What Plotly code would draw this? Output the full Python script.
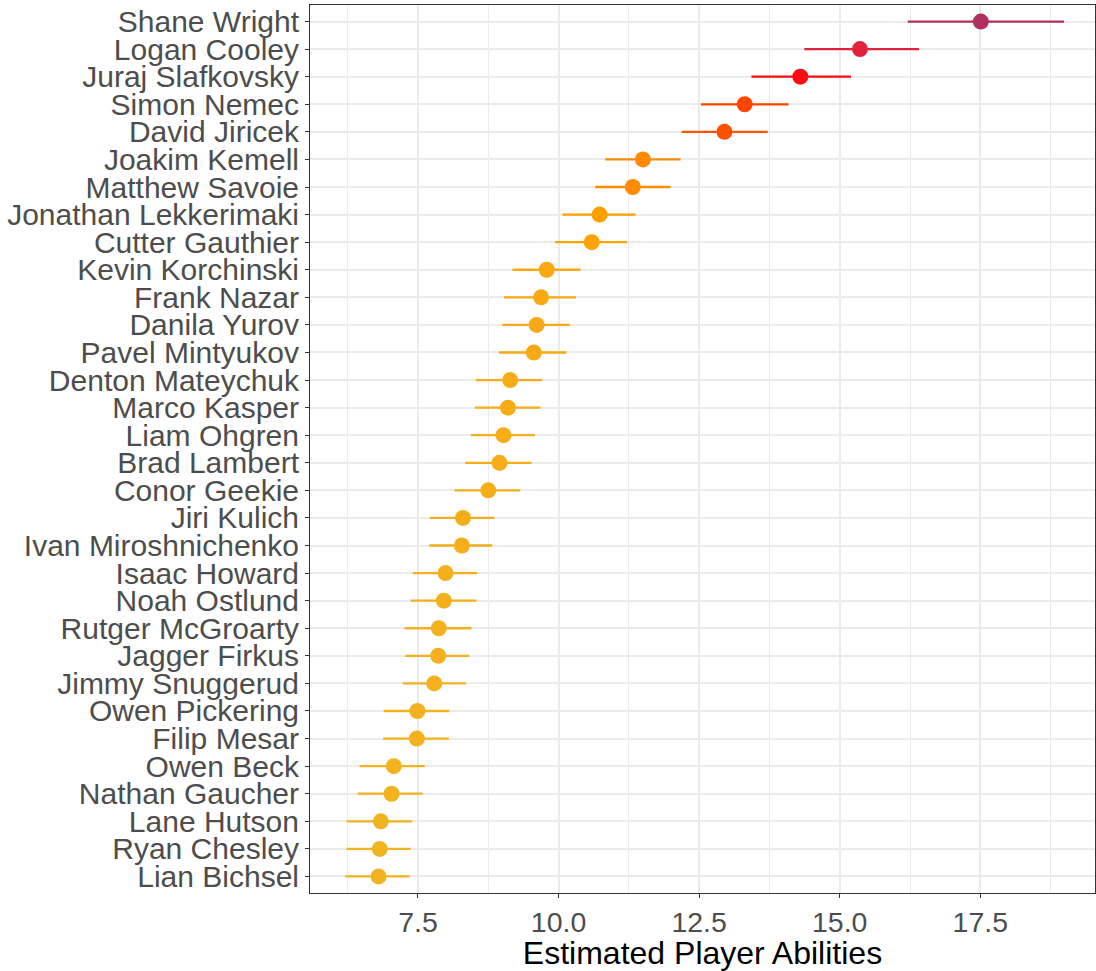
import plotly.graph_objects as go

players = ["Shane Wright", "Logan Cooley", "Juraj Slafkovsky", "Simon Nemec", "David Jiricek",
           "Joakim Kemell", "Matthew Savoie", "Jonathan Lekkerimaki", "Cutter Gauthier",
           "Kevin Korchinski", "Frank Nazar", "Danila Yurov", "Pavel Mintyukov",
           "Denton Mateychuk", "Marco Kasper", "Liam Ohgren", "Brad Lambert", "Conor Geekie",
           "Jiri Kulich", "Ivan Miroshnichenko", "Isaac Howard", "Noah Ostlund",
           "Rutger McGroarty", "Jagger Firkus", "Jimmy Snuggerud", "Owen Pickering",
           "Filip Mesar", "Owen Beck", "Nathan Gaucher", "Lane Hutson", "Ryan Chesley",
           "Lian Bichsel"]
estimate = [17.51, 15.36, 14.30, 13.31, 12.95, 11.50, 11.32, 10.73, 10.59, 9.79, 9.69, 9.61,
            9.56, 9.14, 9.10, 9.02, 8.95, 8.75, 8.30, 8.28, 7.99, 7.96, 7.87, 7.86, 7.79, 7.49,
            7.48, 7.07, 7.03, 6.84, 6.82, 6.80]
lower = [16.21, 14.37, 13.43, 12.53, 12.19, 10.83, 10.65, 10.07, 9.94, 9.18, 9.03, 9.00, 8.94,
         8.53, 8.51, 8.44, 8.34, 8.15, 7.71, 7.70, 7.41, 7.37, 7.26, 7.28, 7.23, 6.89, 6.88,
         6.46, 6.43, 6.23, 6.23, 6.21]
upper = [18.99, 16.41, 15.20, 14.09, 13.72, 12.17, 11.99, 11.37, 11.22, 10.39, 10.31, 10.20,
         10.14, 9.71, 9.68, 9.58, 9.52, 9.32, 8.86, 8.82, 8.55, 8.54, 8.45, 8.41, 8.35, 8.06,
         8.05, 7.62, 7.58, 7.40, 7.37, 7.35]
colors = ["#B03060", "#E2213A", "#FF0A10", "#FF4500", "#FF5200", "#FF8A00", "#FF8C00",
          "#FFA000", "#FFA300", "#FBA80C", "#F9A912", "#F8AA15", "#F8AA16", "#F7AC18",
          "#F7AC18", "#F7AC19", "#F6AD19", "#F6AD1A", "#F5AE1B", "#F5AE1B", "#F4AF1C",
          "#F4AF1C", "#F4B01D", "#F4B01D", "#F4B01E", "#F3B11F", "#F3B11F", "#F3B220",
          "#F3B220", "#F2B321", "#F2B321", "#F2B322"]

fig = go.Figure()
for i, p in enumerate(players):
    fig.add_trace(go.Scatter(
        x=[estimate[i]], y=[i], mode="markers",
        marker=dict(size=16, color=colors[i], line=dict(width=0)),
        error_x=dict(type="data", symmetric=False,
                     array=[upper[i] - estimate[i]],
                     arrayminus=[estimate[i] - lower[i]],
                     color=colors[i], thickness=2.3, width=0),
        showlegend=False, hoverinfo="skip"))

fig.update_layout(
    width=1096, height=971,
    margin=dict(l=310, r=1, t=5, b=78),
    paper_bgcolor="white", plot_bgcolor="white",
    font=dict(family="Liberation Sans, Arial, sans-serif"),
    xaxis=dict(
        range=[5.58, 19.54], tick0=0, dtick=2.5, tickformat=".1f",
        showgrid=True, gridcolor="#EBEBEB", gridwidth=1.8,
        minor=dict(dtick=1.25, tick0=0, showgrid=True, gridcolor="#EBEBEB", gridwidth=1),
        zeroline=False, showline=True, linecolor="#333333", linewidth=1, mirror=True,
        ticks="outside", ticklen=4, tickcolor="#333333", tickwidth=1,
        tickfont=dict(size=28.5, color="#4D4D4D"),
        title=dict(text="Estimated Player Abilities", font=dict(size=32, color="black"), standoff=2),
    ),
    yaxis=dict(
        range=[31.6, -0.6], tickmode="array", tickvals=list(range(len(players))), ticktext=players,
        showgrid=True, gridcolor="#EBEBEB", gridwidth=1.8,
        zeroline=False, showline=True, linecolor="#333333", linewidth=1, mirror=True,
        ticks="outside", ticklen=4, tickcolor="#333333", tickwidth=1,
        tickfont=dict(size=30, color="#4D4D4D"),
    ),
)

fig.write_html("out.html")
